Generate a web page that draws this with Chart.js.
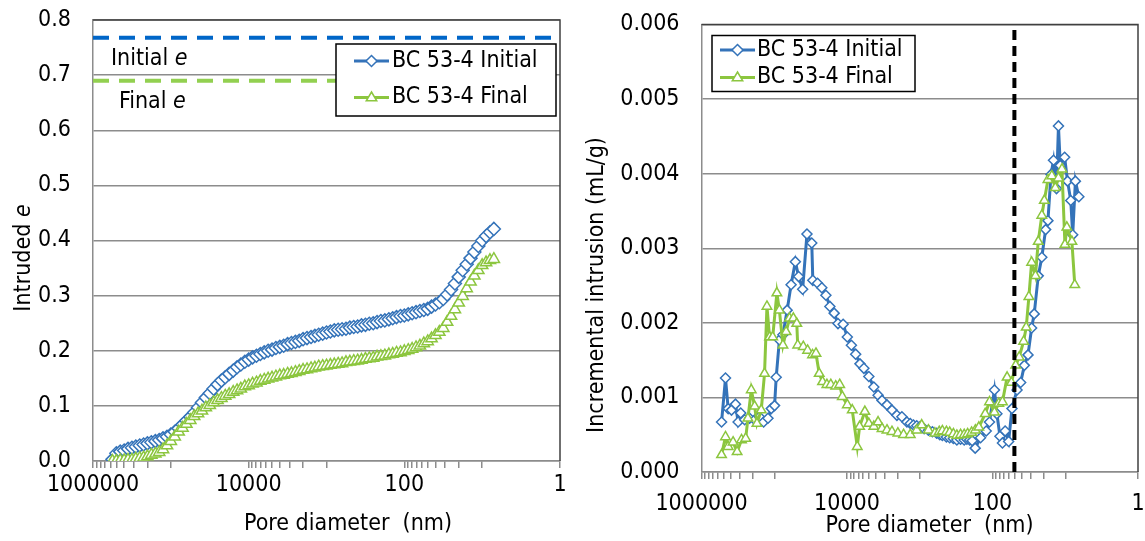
<!DOCTYPE html>
<html lang="en">
<head>
<meta charset="UTF-8">
<title>BC 53-4 pore size distribution</title>
<script src="https://cdn.jsdelivr.net/npm/chart.js@4.4.0/dist/chart.umd.min.js"></script>
<style>
  body { margin: 0; background: #fff; }
  #left { position: absolute; left: 0; top: 0; }
  #right { position: absolute; left: 570px; top: 0; }
</style>
</head>
<body>
<canvas id="left" width="570" height="541"></canvas>
<canvas id="right" width="575" height="541"></canvas>
<script>
// ---- data (pore diameter in nm) ----
var seriesNames = ["BC 53-4 Initial", "BC 53-4 Final"];
var xLabels = [1000000, 10000, 100, 1];

// left panel: intruded void ratio
var cumDiam = [562000,501000,447000,398000,355000,316000,282000,251000,224000,200000,
  178000,158000,141000,126000,112000,100000,89100,79400,70800,63100,
  56200,50100,44700,39800,35500,31600,28200,25100,22400,20000,
  17800,15800,14100,12600,11200,10000,8910,7940,7080,6310,
  5620,5010,4470,3980,3550,3160,2820,2510,2240,2000,
  1780,1580,1410,1260,1120,1000,891,794,708,631,
  562,501,447,398,355,316,282,251,224,200,
  178,158,141,126,112,100,89.1,79.4,70.8,63.1,
  56.2,50.1,44.7,39.8,35.5,31.6,28.2,25.1,22.4,20.0,
  17.8,15.8,14.1,12.6,11.2,10.0,8.91,7.94,7.08];
var cumInitial = [0.003,0.014,0.017,0.019,0.022,0.024,0.026,0.028,0.030,0.032,
  0.034,0.036,0.038,0.041,0.044,0.048,0.053,0.059,0.066,0.073,
  0.080,0.088,0.097,0.106,0.115,0.123,0.131,0.139,0.146,0.152,
  0.158,0.164,0.170,0.175,0.180,0.184,0.188,0.191,0.194,0.197,
  0.200,0.202,0.205,0.207,0.209,0.212,0.214,0.216,0.218,0.221,
  0.223,0.225,0.227,0.229,0.231,0.233,0.235,0.237,0.238,0.239,
  0.240,0.242,0.243,0.244,0.246,0.247,0.249,0.250,0.252,0.254,
  0.255,0.257,0.259,0.261,0.263,0.264,0.266,0.268,0.270,0.272,
  0.274,0.276,0.280,0.284,0.288,0.294,0.302,0.311,0.322,0.334,
  0.346,0.357,0.368,0.379,0.390,0.400,0.408,0.415,0.421];
var cumFinal = [0.000,0.000,0.001,0.001,0.002,0.002,0.004,0.005,0.006,0.008,
  0.011,0.013,0.016,0.021,0.028,0.036,0.044,0.053,0.060,0.067,
  0.074,0.081,0.086,0.091,0.097,0.101,0.106,0.110,0.114,0.118,
  0.121,0.125,0.128,0.131,0.135,0.137,0.140,0.142,0.145,0.147,
  0.149,0.151,0.153,0.155,0.156,0.158,0.159,0.161,0.163,0.165,
  0.166,0.168,0.169,0.171,0.172,0.173,0.174,0.175,0.176,0.177,
  0.179,0.180,0.181,0.182,0.183,0.185,0.186,0.187,0.189,0.190,
  0.191,0.193,0.194,0.196,0.197,0.199,0.201,0.203,0.206,0.209,
  0.213,0.217,0.222,0.228,0.234,0.241,0.252,0.263,0.275,0.287,
  0.299,0.313,0.325,0.336,0.346,0.355,0.360,0.364,0.366];
var initialE = 0.768;
var finalE = 0.69;

// right panel: incremental intrusion (mL/g)
var incDiamInitial = [530000,468000,430000,387000,341000,314000,289000,255000,218000,186000,
  160000,140000,122000,110000,99000,94000,85000,76000,66500,58700,
  51300,46200,40700,35500,30500,29500,25400,22200,19500,17200,
  15000,13300,11300,9900,8700,7600,6640,5860,5010,4280,
  3740,3300,2820,2410,2060,1760,1500,1350,1220,1100,
  990,870,760,670,585,530,489,430,388,345,
  309,275,245,225,206,190,173,146,122,110,
  94,87,79,73,67,60,54,46,41,36.5,
  32.5,29,26.7,23.5,21,18.6,17.3,15.7,14.5,13.2,
  12.4,11.7,10.2,9.3,8.4,7.9,7.25,6.5];
var incInitial = [0.00067,0.00126,0.00085,0.00083,0.00091,0.00067,0.00079,0.00070,0.00072,0.00070,
  0.00074,0.00067,0.00072,0.00085,0.00089,0.00127,0.00177,0.00184,0.00217,0.00251,
  0.00282,0.00262,0.00245,0.00319,0.00307,0.00257,0.00253,0.00247,0.00237,0.00222,
  0.00213,0.00199,0.00198,0.00181,0.00170,0.00158,0.00145,0.00139,0.00128,0.00114,
  0.00103,0.00096,0.00090,0.00083,0.00076,0.00074,0.00067,0.00065,0.00063,0.00062,
  0.00061,0.00058,0.00056,0.00054,0.00052,0.00050,0.00049,0.00047,0.00046,0.00045,
  0.00043,0.00044,0.00043,0.00044,0.00043,0.00042,0.00032,0.00046,0.00055,0.00067,
  0.00110,0.00078,0.00048,0.00039,0.00055,0.00041,0.00085,0.00110,0.00120,0.00143,
  0.00157,0.00193,0.00212,0.00263,0.00288,0.00325,0.00337,0.00399,0.00418,0.00380,
  0.00464,0.00411,0.00422,0.00390,0.00364,0.00318,0.00390,0.00369];
var incDiamFinal = [530000,468000,430000,368000,324000,282000,247000,230000,207000,186000,
  173000,151000,136000,126000,116000,105000,92000,85000,76000,68700,
  61700,54600,49000,47600,39900,34800,29800,26700,24100,21700,
  18900,16700,14300,12600,11600,9900,8470,7230,6710,5680,
  5010,4280,3740,3300,2820,2410,2000,1670,1350,1100,
  940,760,620,540,489,430,388,345,309,275,
  245,220,194,172,154,126,110,94,82,73,
  63,55,48,43,37.4,34.4,31.6,29,25.7,23.5,
  21,19.4,17.3,15.3,13.7,12.4,11.1,10.1,9.5,8.1,
  7.4];
var incFinal = [0.00023,0.00047,0.00034,0.00040,0.00027,0.00043,0.00045,0.00072,0.00110,0.00088,
  0.00065,0.00083,0.00132,0.00222,0.00181,0.00181,0.00240,0.00217,0.00170,0.00188,
  0.00206,0.00206,0.00199,0.00170,0.00168,0.00163,0.00157,0.00159,0.00132,0.00121,
  0.00117,0.00117,0.00115,0.00117,0.00101,0.00090,0.00083,0.00034,0.00061,0.00081,
  0.00065,0.00061,0.00067,0.00058,0.00056,0.00054,0.00052,0.00050,0.00050,0.00056,
  0.00063,0.00056,0.00052,0.00054,0.00055,0.00054,0.00053,0.00051,0.00049,0.00050,
  0.00050,0.00051,0.00053,0.00056,0.00060,0.00078,0.00094,0.00080,0.00092,0.00094,
  0.00127,0.00120,0.00143,0.00154,0.00175,0.00194,0.00235,0.00281,0.00263,0.00309,
  0.00344,0.00364,0.00392,0.00397,0.00381,0.00394,0.00406,0.00305,0.00328,0.00309,
  0.00251];
var cutoffDiam = 50;

// ---- styling ----
var FONT = "'DejaVu Sans Condensed', 'DejaVu Sans', sans-serif";
var FSIZE = 23;
var BLUE = "#3473b9";
var GREEN = "#8cc63f";
var GRID = "#8c8c8c";

Chart.defaults.font.family = FONT;
Chart.defaults.font.size = FSIZE;
Chart.defaults.color = "#000";

function pts(xs, ys) {
  return xs.map(function (x, i) { return { x: x, y: ys[i] }; });
}

// excel style log ticks: k*10, k*20 ... inside every two decades
function logTicks() {
  var t = [1];
  [1, 100, 10000].forEach(function (base) {
    for (var k = 10; k <= 100; k += 10) t.push(base * k);
  });
  return t;
}

function xAxis(pad, height) {
  return {
    type: "logarithmic", reverse: true, min: 1, max: 1000000,
    afterBuildTicks: function (s) { s.ticks = logTicks().map(function (v) { return { value: v }; }); },
    afterFit: function (s) { s.height = height; s.paddingLeft = 0; s.paddingRight = 0; },
    ticks: {
      autoSkip: false, maxRotation: 0, padding: pad,
      callback: function (v) { return xLabels.indexOf(v) >= 0 ? String(v) : ""; }
    },
    grid: { drawOnChartArea: false, tickLength: 7, color: GRID, lineWidth: 1.5 },
    border: { color: GRID, width: 1.5 }
  };
}

function yAxis(max, step, dec, width) {
  return {
    min: 0, max: max,
    afterFit: function (s) { s.width = width; s.paddingTop = 0; s.paddingBottom = 0; },
    ticks: { stepSize: step, padding: 22, callback: function (v) { return v.toFixed(dec); } },
    grid: { color: GRID, lineWidth: 1.5, drawTicks: false },
    border: { color: GRID, width: 1.5 }
  };
}

function series(label, data, color, style, radius, order) {
  return {
    label: label, data: data, order: order,
    borderColor: color, borderWidth: 3, tension: 0,
    pointStyle: style, pointRadius: radius, pointBorderWidth: 1.5,
    pointBackgroundColor: "#fff", pointBorderColor: color
  };
}

function refLine(data, color, dash, width, order) {
  return {
    data: data, order: order, borderColor: color, borderWidth: width,
    borderDash: dash, pointRadius: 0, tension: 0
  };
}

function marker(ctx, style, x, y, r) {
  ctx.beginPath();
  if (style === "rectRot") {
    ctx.moveTo(x, y - r); ctx.lineTo(x + r, y); ctx.lineTo(x, y + r); ctx.lineTo(x - r, y);
  } else {
    ctx.moveTo(x, y - r); ctx.lineTo(x + r * 0.95, y + r * 0.6); ctx.lineTo(x - r * 0.95, y + r * 0.6);
  }
  ctx.closePath();
  ctx.fill(); ctx.stroke();
}

// text with an italic part
function mixedText(ctx, parts, x, y, align) {
  var widths = parts.map(function (p) {
    ctx.font = (p.italic ? "italic " : "") + FSIZE + "px " + FONT;
    return ctx.measureText(p.text).width;
  });
  var total = widths.reduce(function (a, b) { return a + b; }, 0);
  var cx = align === "center" ? x - total / 2 : x;
  ctx.textAlign = "left"; ctx.textBaseline = "middle"; ctx.fillStyle = "#000";
  parts.forEach(function (p, i) {
    ctx.font = (p.italic ? "italic " : "") + FSIZE + "px " + FONT;
    ctx.fillText(p.text, cx, y);
    cx += widths[i];
  });
}

var decor = {
  id: "decor",
  afterDraw: function (chart, args, o) {
    var ctx = chart.ctx, a = chart.chartArea;
    ctx.save();
    // top and right frame
    ctx.strokeStyle = "#404040"; ctx.lineWidth = 1.5;
    ctx.beginPath();
    ctx.moveTo(a.left, a.top); ctx.lineTo(a.right, a.top); ctx.lineTo(a.right, a.bottom);
    ctx.stroke();

    // legend
    var L = o.legend;
    ctx.fillStyle = "#fff";
    ctx.fillRect(L.x, L.y, L.w, L.h);
    ctx.strokeStyle = "#000"; ctx.lineWidth = 1.5;
    ctx.strokeRect(L.x, L.y, L.w, L.h);
    [0, 1].forEach(function (i) {
      var ds = chart.data.datasets[i];
      var y = L.rows[i];
      ctx.strokeStyle = ds.borderColor; ctx.lineWidth = 3;
      ctx.beginPath(); ctx.moveTo(L.x0, y); ctx.lineTo(L.x1, y); ctx.stroke();
      ctx.fillStyle = "#fff"; ctx.lineWidth = 1.5;
      marker(ctx, ds.pointStyle, (L.x0 + L.x1) / 2, y, 5.5);
      mixedText(ctx, [{ text: ds.label }], L.tx, y, "left");
    });

    // free text labels
    (o.notes || []).forEach(function (n) { mixedText(ctx, n.parts, n.x, n.y, "left"); });

    // axis titles
    mixedText(ctx, [{ text: o.xTitle.text }], o.xTitle.x, o.xTitle.y, "center");
    ctx.translate(o.yTitle.x, o.yTitle.y);
    ctx.rotate(-Math.PI / 2);
    mixedText(ctx, o.yTitle.parts, 0, 0, "center");
    ctx.restore();
  }
};

// ---- left chart ----
new Chart(document.getElementById("left"), {
  type: "line",
  data: {
    datasets: [
      series(seriesNames[0], pts(cumDiam, cumInitial), BLUE, "rectRot", 6.5, 1),
      series(seriesNames[1], pts(cumDiam, cumFinal), GREEN, "triangle", 6.5, 0),
      refLine([{ x: 1000000, y: initialE }, { x: 1, y: initialE }], "#0066c8", [16, 10], 4, 2),
      refLine([{ x: 1000000, y: finalE }, { x: 1, y: finalE }], "#92d050", [16, 10], 4, 2)
    ]
  },
  options: {
    responsive: false, animation: false,
    layout: { padding: { top: 20, right: 10, left: 0, bottom: 0 } },
    scales: { x: xAxis(3, 80), y: yAxis(0.8, 0.1, 1, 93) },
    plugins: {
      legend: { display: false }, tooltip: { enabled: false },
      decor: {
        legend: { x: 336, y: 44, w: 220, h: 72, x0: 354, x1: 389, tx: 392, rows: [61, 97.5] },
        notes: [
          { parts: [{ text: "Initial " }, { text: "e", italic: true }], x: 111, y: 59 },
          { parts: [{ text: "Final " }, { text: "e", italic: true }], x: 119, y: 102 }
        ],
        xTitle: { text: "Pore diameter  (nm)", x: 348, y: 524 },
        yTitle: { parts: [{ text: "Intruded " }, { text: "e", italic: true }], x: 24, y: 258 }
      }
    }
  },
  plugins: [decor]
});

// ---- right chart ----
new Chart(document.getElementById("right"), {
  type: "line",
  data: {
    datasets: [
      series(seriesNames[0], pts(incDiamInitial, incInitial), BLUE, "rectRot", 5, 1),
      series(seriesNames[1], pts(incDiamFinal, incFinal), GREEN, "triangle", 5.5, 0),
      refLine([{ x: cutoffDiam, y: 0 }, { x: cutoffDiam, y: 0.006 }], "#000", [10, 6], 4, -1)
    ]
  },
  options: {
    responsive: false, animation: false,
    layout: { padding: { top: 24.5, right: 4, left: 0, bottom: 0 } },
    scales: { x: xAxis(11, 69), y: yAxis(0.006, 0.001, 3, 131.5) },
    plugins: {
      legend: { display: false }, tooltip: { enabled: false },
      decor: {
        legend: { x: 142, y: 35.5, w: 203, h: 56, x0: 150, x1: 185, tx: 187, rows: [50, 77.5] },
        notes: [],
        xTitle: { text: "Pore diameter  (nm)", x: 359.5, y: 526 },
        yTitle: { parts: [{ text: "Incremental intrusion (mL/g)" }], x: 27.5, y: 285 }
      }
    }
  },
  plugins: [decor]
});
</script>
</body>
</html>
